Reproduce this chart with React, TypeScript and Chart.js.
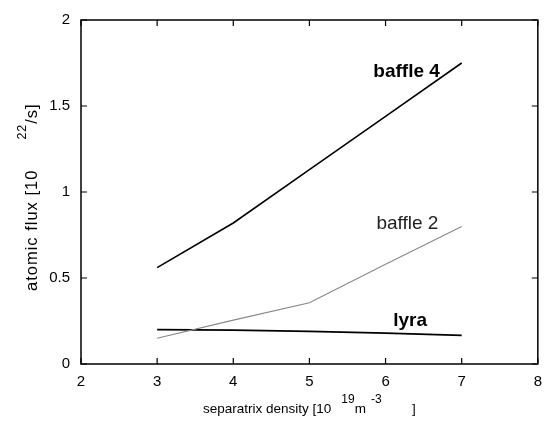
import React, { useEffect, useRef } from "react";
import { Chart, registerables } from "chart.js";

Chart.register(...registerables);

const densities = [3, 4, 5, 6, 7];
const baffle4 = [0.56, 0.82, 1.13, 1.44, 1.75];
const baffle2 = [0.15, 0.255, 0.356, 0.58, 0.8];
const lyra = [0.2, 0.197, 0.19, 0.18, 0.167];

const xTicks = [2, 3, 4, 5, 6, 7, 8];
const yTicks = [0, 0.5, 1, 1.5, 2];

const labelTexts = ["baffle 4", "baffle 2", "lyra"];
const labelX = [5.84, 5.88, 6.1];
const labelY = [1.67, 0.783, 0.223];
const labelBold = [true, false, true];
const labelColors = ["#000000", "#222222", "#000000"];

const FONT = "'Liberation Sans', Arial, Helvetica, sans-serif";

const decorPlugin = {
  id: "decor",
  afterDraw(chart: any) {
    const ctx = chart.ctx;
    const { left, right, top, bottom } = chart.chartArea;
    const xs = chart.scales.x;
    const ys = chart.scales.y;
    ctx.save();
    // frame
    ctx.strokeStyle = "#000";
    ctx.lineWidth = 1.5;
    ctx.strokeRect(left, top, right - left, bottom - top);
    // inward ticks
    ctx.lineWidth = 1.2;
    const tl = 6;
    ctx.beginPath();
    xTicks.forEach((v) => {
      const px = xs.getPixelForValue(v);
      ctx.moveTo(px, bottom);
      ctx.lineTo(px, bottom - tl);
      ctx.moveTo(px, top);
      ctx.lineTo(px, top + tl);
    });
    yTicks.forEach((v) => {
      const py = ys.getPixelForValue(v);
      ctx.moveTo(left, py);
      ctx.lineTo(left + tl, py);
      ctx.moveTo(right, py);
      ctx.lineTo(right - tl, py);
    });
    ctx.stroke();

    // series labels
    labelTexts.forEach((t, i) => {
      ctx.font = `${labelBold[i] ? "bold " : ""}19px ${FONT}`;
      ctx.fillStyle = labelColors[i];
      ctx.textAlign = "left";
      ctx.textBaseline = "alphabetic";
      ctx.fillText(t, xs.getPixelForValue(labelX[i]), ys.getPixelForValue(labelY[i]));
    });

    // x-axis title with superscripts
    ctx.fillStyle = "#000";
    ctx.textBaseline = "alphabetic";
    ctx.textAlign = "left";
    const base = `13.5px ${FONT}`;
    const sup = `12px ${FONT}`;
    let x = 203;
    const yb = 413;
    const part = (text: string, font: string, dy: number, gapAfter: number) => {
      ctx.font = font;
      ctx.fillText(text, x, yb + dy);
      x += ctx.measureText(text).width + gapAfter;
    };
    part("separatrix density [10", base, 0, 10);
    part("19", sup, -10, 0);
    part("m", base, 0, 5);
    part("-3", sup, -10, 0);
    ctx.font = base;
    ctx.fillText("]", 412, yb);

    // y-axis title rotated
    ctx.save();
    ctx.translate(37, 291);
    ctx.rotate(-Math.PI / 2);
    (ctx as any).letterSpacing = "1px";
    let yx = 0;
    const rpart = (text: string, font: string, dy: number, gapAfter: number) => {
      ctx.font = font;
      ctx.fillText(text, yx, dy);
      yx += ctx.measureText(text).width + gapAfter;
    };
    rpart("atomic flux [10", `16.5px ${FONT}`, 0, 30);
    rpart("22", `12.5px ${FONT}`, -11, 0);
    rpart("/s]", `16.5px ${FONT}`, 0, 0);
    (ctx as any).letterSpacing = "0px";
    ctx.restore();

    ctx.restore();
  },
};

export default function App() {
  const ref = useRef<HTMLCanvasElement>(null);
  useEffect(() => {
    if (!ref.current) return;
    const chart = new Chart(ref.current, {
      type: "line",
      data: {
        labels: densities,
        datasets: [
          {
            label: "baffle 4",
            data: densities.map((d, i) => ({ x: d, y: baffle4[i] })),
            borderColor: "#000",
            borderWidth: 1.6,
            pointRadius: 0,
            tension: 0,
          },
          {
            label: "baffle 2",
            data: densities.map((d, i) => ({ x: d, y: baffle2[i] })),
            borderColor: "#888",
            borderWidth: 1.1,
            pointRadius: 0,
            tension: 0,
          },
          {
            label: "lyra",
            data: densities.map((d, i) => ({ x: d, y: lyra[i] })),
            borderColor: "#000",
            borderWidth: 1.8,
            pointRadius: 0,
            tension: 0,
          },
        ],
      },
      options: {
        responsive: false,
        animation: false,
        layout: { padding: { top: 13, right: 10, left: 0, bottom: 0 } },
        plugins: { legend: { display: false }, tooltip: { enabled: false } },
        scales: {
          x: {
            type: "linear",
            min: 2,
            max: 8,
            afterFit: (s: any) => {
              s.height = 65;
            },
            afterBuildTicks: (s: any) => {
              s.ticks = xTicks.map((v) => ({ value: v }));
            },
            grid: { display: false, drawTicks: false },
            border: { display: false },
            ticks: {
              padding: 9,
              color: "#000",
              font: { family: FONT, size: 15 },
              maxRotation: 0,
              autoSkip: false,
            },
          },
          y: {
            type: "linear",
            min: 0,
            max: 2,
            afterFit: (s: any) => {
              s.width = 81;
            },
            afterBuildTicks: (s: any) => {
              s.ticks = yTicks.map((v) => ({ value: v }));
            },
            grid: { display: false, drawTicks: false },
            border: { display: false },
            ticks: {
              padding: 11,
              color: "#000",
              font: { family: FONT, size: 15 },
              autoSkip: false,
              callback: (v: any) => String(v),
            },
          },
        },
      },
      plugins: [decorPlugin],
    });
    return () => chart.destroy();
  }, []);
  return (
    <div style={{ position: "absolute", left: 0, top: 0, width: 551, height: 429, background: "#fff" }}>
      <canvas ref={ref} width={551} height={429} />
    </div>
  );
}
